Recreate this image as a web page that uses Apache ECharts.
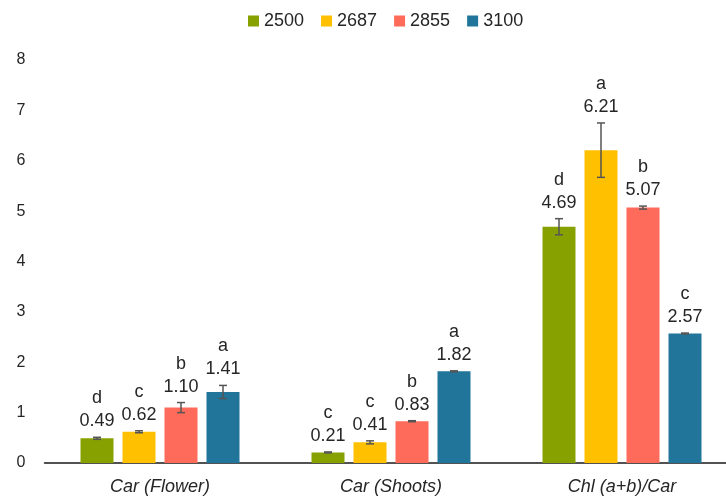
<!DOCTYPE html>
<html>
<head>
<meta charset="utf-8">
<script src="https://cdn.jsdelivr.net/npm/echarts@6/dist/echarts.min.js"></script>
<style>
  html, body { margin: 0; padding: 0; background: #fff; }
  #chart { width: 726px; height: 498px; }
</style>
</head>
<body>
<div id="chart"></div>
<script>
// Pigment measurements grouped by trait, one bar per elevation
const categories = ['Car (Flower)', 'Car (Shoots)', 'Chl (a+b)/Car'];
const years = ['2500', '2687', '2855', '3100'];

const values2500 = [0.49, 0.21, 4.69];
const values2687 = [0.62, 0.41, 6.21];
const values2855 = [1.10, 0.83, 5.07];
const values3100 = [1.41, 1.82, 2.57];

const errors2500 = [0.02, 0.01, 0.16];
const errors2687 = [0.02, 0.03, 0.54];
const errors2855 = [0.10, 0.01, 0.03];
const errors3100 = [0.13, 0.01, 0.01];

const letters2500 = ['d', 'c', 'd'];
const letters2687 = ['c', 'c', 'a'];
const letters2855 = ['b', 'b', 'b'];
const letters3100 = ['a', 'a', 'c'];

const yTicks = [0, 1, 2, 3, 4, 5, 6, 7, 8];

const colors = ['#87a100', '#ffc000', '#ff6b5b', '#21759b'];
const allValues = [values2500, values2687, values2855, values3100];
const allErrors = [errors2500, errors2687, errors2855, errors3100];
const allLetters = [letters2500, letters2687, letters2855, letters3100];

const BAR_W = 33;
const BAR_GAP = 9;
const FONT = '"Liberation Sans", Arial, sans-serif';
const TEXT_COLOR = '#262626';

// rows for the error-bar / annotation layer: [category, series, value, error]
const rows = [];
const rowLetters = [];
allValues.forEach((vals, s) => {
  vals.forEach((v, c) => {
    rows.push([c, s, v, allErrors[s][c]]);
    rowLetters.push(allLetters[s][c]);
  });
});

const barSeries = years.map((y, s) => ({
  name: y,
  type: 'bar',
  data: allValues[s],
  barWidth: BAR_W,
  barGap: (BAR_GAP / BAR_W * 100) + '%',
  itemStyle: { color: colors[s] },
  emphasis: { disabled: true },
  z: 2
}));

function renderErr(params, api) {
  const c = api.value(0), s = api.value(1), v = api.value(2), e = api.value(3);
  const offset = (s - 1.5) * (BAR_W + BAR_GAP);
  const x = api.coord([c, v])[0] + offset;
  const yTop = api.coord([c, v + e])[1];
  const yBot = api.coord([c, v - e])[1];
  const cap = 4;
  const errStyle = { stroke: '#555', lineWidth: 1.5 };
  const valueY = yTop - 16;
  return {
    type: 'group',
    children: [
      { type: 'line', shape: { x1: x, y1: yTop, x2: x, y2: yBot }, style: errStyle },
      { type: 'line', shape: { x1: x - cap, y1: yTop, x2: x + cap, y2: yTop }, style: errStyle },
      { type: 'line', shape: { x1: x - cap, y1: yBot, x2: x + cap, y2: yBot }, style: errStyle },
      {
        type: 'text',
        style: {
          text: v.toFixed(2), x: x, y: valueY,
          textAlign: 'center', textVerticalAlign: 'middle',
          fontSize: 18, fontFamily: FONT, fill: TEXT_COLOR
        }
      },
      {
        type: 'text',
        style: {
          text: rowLetters[params.dataIndex], x: x, y: valueY - 23,
          textAlign: 'center', textVerticalAlign: 'middle',
          fontSize: 18, fontFamily: FONT, fill: TEXT_COLOR
        }
      }
    ]
  };
}

const chart = echarts.init(document.getElementById('chart'), null, { renderer: 'canvas' });
chart.setOption({
  animation: false,
  backgroundColor: '#fff',
  color: colors,
  legend: {
    data: years,
    left: 243,
    top: 7,
    itemWidth: 11,
    itemHeight: 11,
    itemGap: 17,
    icon: 'rect',
    textStyle: { fontSize: 18, fontFamily: FONT, color: TEXT_COLOR }
  },
  // the plot area runs past the right edge of the canvas
  grid: {
    left: 44.5, width: 693, top: 60, bottom: 35,
    containLabel: false, outerBoundsMode: 'none'
  },
  xAxis: {
    type: 'category',
    data: categories,
    axisLine: { show: true, lineStyle: { color: '#1a1a1a', width: 1.5 } },
    axisTick: { show: false },
    axisLabel: {
      margin: 15, fontSize: 18, fontStyle: 'italic', fontFamily: FONT, color: TEXT_COLOR
    },
    splitLine: { show: false }
  },
  yAxis: {
    type: 'value',
    min: yTicks[0],
    max: yTicks[yTicks.length - 1],
    interval: 1,
    axisLine: { show: false },
    axisTick: { show: false },
    splitLine: { show: false },
    axisLabel: { margin: 19, fontSize: 16, fontFamily: FONT, color: TEXT_COLOR }
  },
  series: barSeries.concat([{
    name: 'errors',
    type: 'custom',
    data: rows,
    renderItem: renderErr,
    clip: false,
    silent: true,
    z: 5
  }])
});
</script>
</body>
</html>
